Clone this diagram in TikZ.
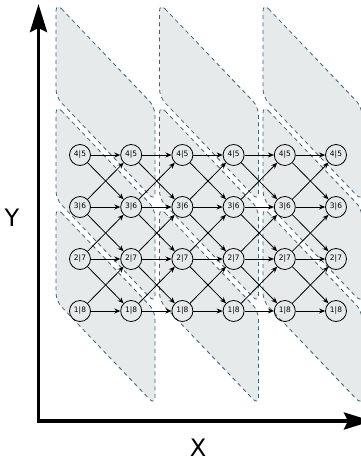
\documentclass[tikz,border=0pt]{standalone}
\usepackage{fontspec}
\setmainfont{DejaVu Sans}
\usepackage{xcolor}
\usetikzlibrary{arrows.meta}

\definecolor{panelline}{HTML}{3D6278}
\definecolor{panelfill}{HTML}{E7EAEB}

\tikzset{
  panel/.style={draw=panelline, fill=panelfill, line width=0.8pt,
    dash pattern=on 4pt off 3.5pt, rounded corners=8pt},
  state/.style={circle, draw, line width=0.8pt, minimum size=21pt,
    inner sep=0pt, font=\fontsize{7.5}{8}\selectfont},
  axis/.style={line width=3.5pt,
    {Stealth[length=28pt,width=17pt,inset=4pt]}-{Stealth[length=28pt,width=17pt,inset=4pt]}},
  axislabel/.style={font=\fontsize{24}{28}\selectfont},
}

\begin{document}
\begin{tikzpicture}[x=1pt, y=-1pt, >={Stealth[length=6pt,width=5pt]}]
\useasboundingbox (0,0) rectangle (361,464);
% slanted panels, three per column
\foreach \c in {0,1,2}{
  \foreach \k in {0,1,2}{
    \pgfmathsetmacro{\px}{56+103.5*\c}
    \pgfmathsetmacro{\py}{3+102*\k}
    \draw[panel] (\px,\py) -- ++(99,104) -- ++(0,94) -- ++(-99,-104) -- cycle;
  }
}
% states
\foreach \i in {0,...,5}{
  \foreach \j/\t in {0/4|5, 1/3|6, 2/2|7, 3/1|8}{
    \node[state] (n\i\j) at (80+51.2*\i, 155+52*\j) {\t};
  }
}
% transitions
\foreach \i in {0,...,4}{
  \pgfmathtruncatemacro{\n}{\i+1}
  \foreach \j in {0,...,3}{
    \draw[->, line width=0.8pt] (n\i\j) -- (n\n\j);
  }
  \foreach \j in {0,1,2}{
    \pgfmathtruncatemacro{\jj}{\j+1}
    \draw[->, line width=0.8pt] (n\i\j) -- (n\n\jj);
    \draw[->, line width=0.8pt] (n\i\jj) -- (n\n\j);
  }
}
% axes
\coordinate (ytop) at (38.5,4);
\coordinate (origin) at (38.5,421);
\coordinate (xend) at (372,421);
\draw[axis] (ytop) -- (origin) -- (xend);
\node[axislabel] (ylabel) at (12,218) {Y};
\node[axislabel] (xlabel) at (198,448) {X};
\end{tikzpicture}
\end{document}
